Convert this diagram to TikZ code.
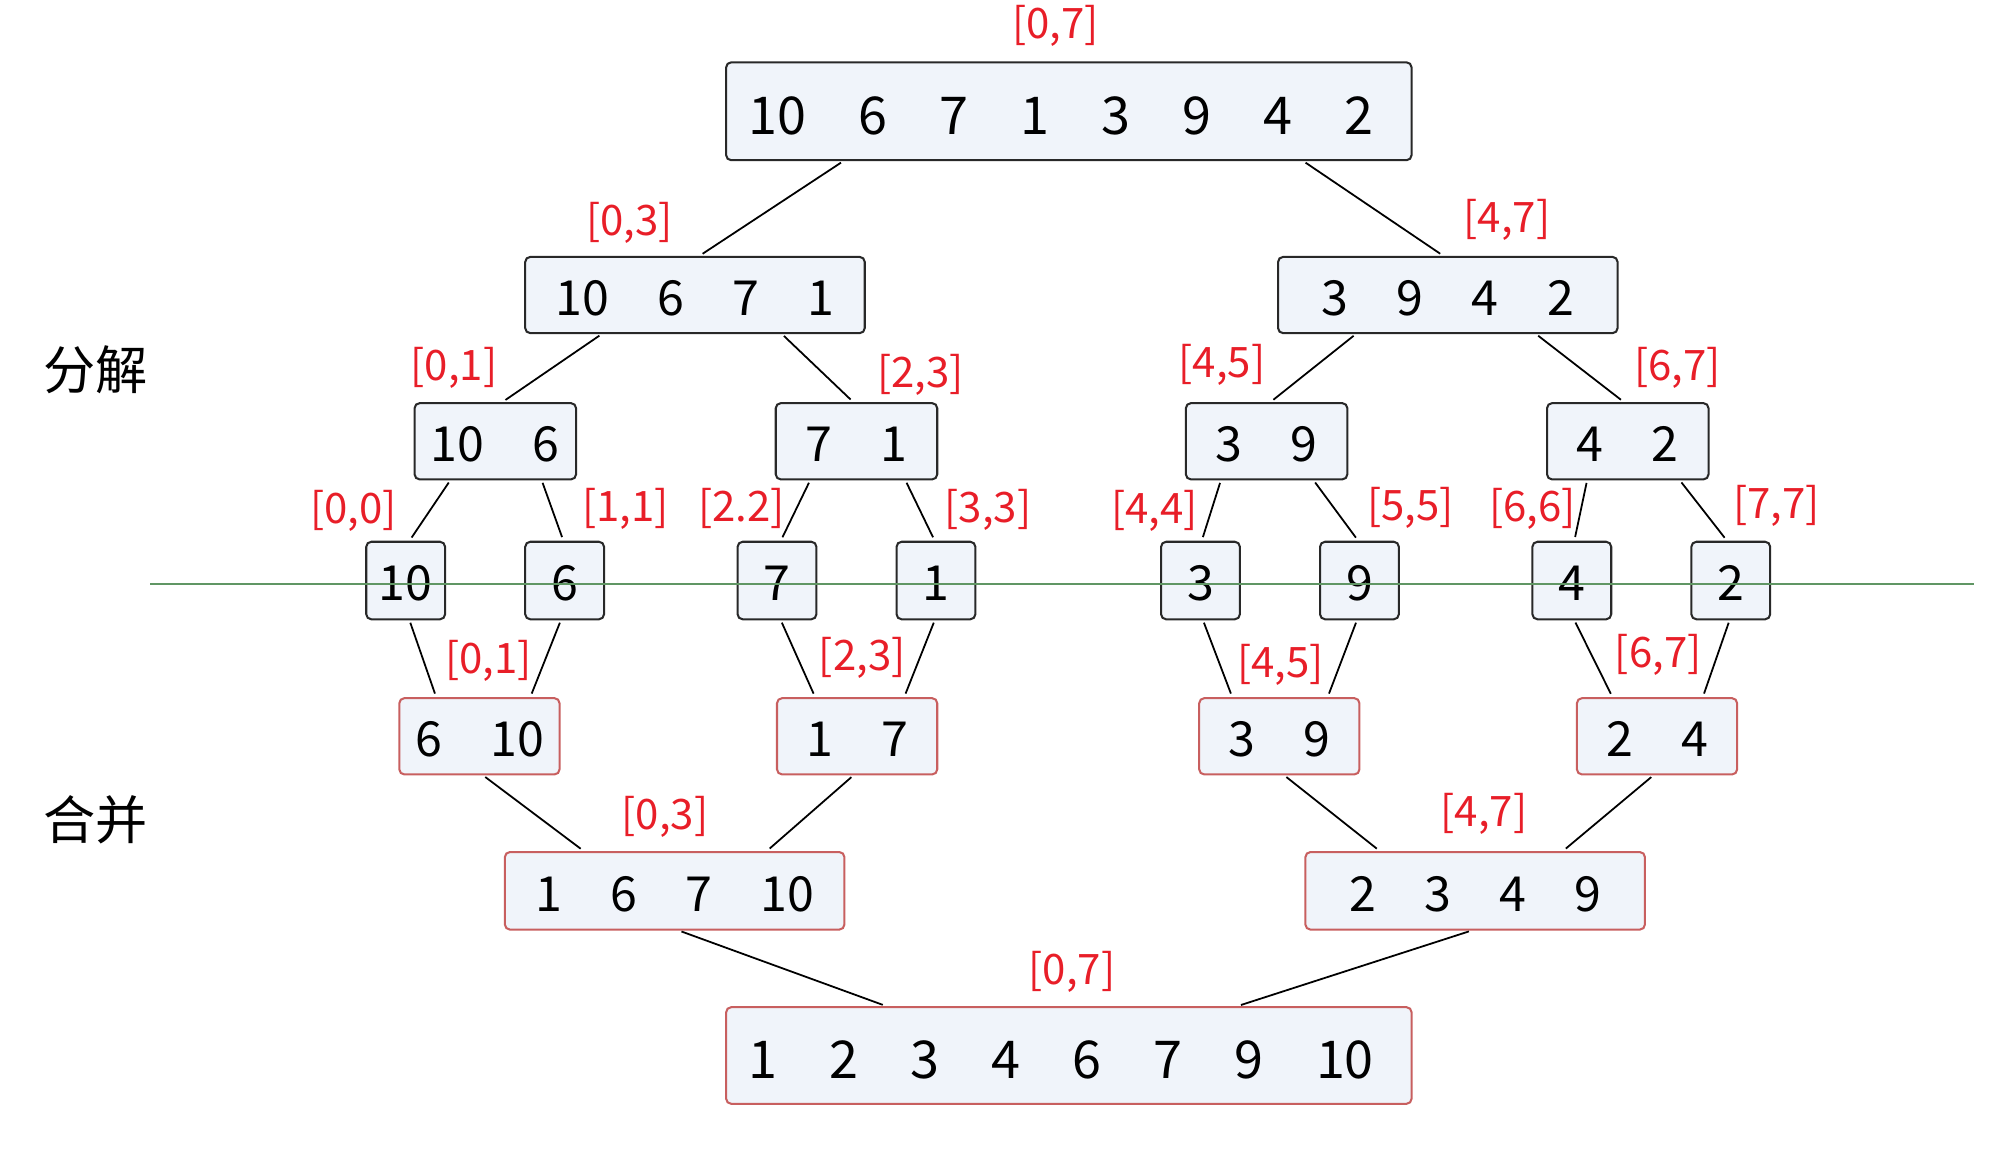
\documentclass[tikz,border=0pt]{standalone}
\usepackage{fontspec}
\setmainfont{Noto Sans CJK SC}
\definecolor{bx}{RGB}{240,244,250}
\definecolor{dk}{RGB}{40,40,40}
\definecolor{rd}{RGB}{200,95,95}
\definecolor{lbred}{RGB}{232,30,40}
\definecolor{gr}{RGB}{96,150,100}
\newcommand\gp{\hspace{1em}}
\tikzset{
  dbox/.style 2 args={draw=dk, fill=bx, rounded corners=4pt, line width=1.6pt,
    minimum width=#1, minimum height=#2, inner sep=0pt,
    text height=32pt, text depth=0pt,
    font=\fontsize{38}{40}\selectfont},
  mbox/.style 2 args={dbox={#1}{#2}, draw=rd},
  bigfont/.style={font=\fontsize{41}{44}\selectfont, text height=36pt},
  lab/.style={text=lbred, inner sep=0pt, font=\fontsize{33}{36}\selectfont},
  side/.style={inner sep=0pt, font=\fontsize{41}{44}\selectfont},
  conn/.style={line width=1.4pt, shorten <=2pt, shorten >=3pt},
  gline/.style={draw=gr, line width=1.8pt}
}
\begin{document}
\begin{tikzpicture}[x=1pt,y=-1pt]
\useasboundingbox (0,0) rectangle (1568,912);
% decomposition
\node[dbox={539pt}{77pt}, bigfont] (T) at (840.5,87.5) {10\gp 6\gp 7\gp 1\gp 3\gp 9\gp 4\gp 2\hspace*{12pt}};
\node[dbox={267pt}{60pt}] (A1) at (546.5,232) {10\gp 6\gp 7\gp 1};
\node[dbox={267pt}{60pt}] (A2) at (1138.5,232) {3\gp 9\gp 4\gp 2};
\node[dbox={127pt}{60pt}] (B1) at (389.5,347) {10\gp 6};
\node[dbox={127pt}{60pt}] (B2) at (673.5,347) {7\gp 1};
\node[dbox={127pt}{60pt}] (B3) at (996,347) {3\gp 9};
\node[dbox={127pt}{60pt}] (B4) at (1280,347) {4\gp 2};
\node[dbox={62pt}{61pt}] (C1) at (319,456.5) {10};
\node[dbox={62pt}{61pt}] (C2) at (444,456.5) {6};
\node[dbox={62pt}{61pt}] (C3) at (611,456.5) {7};
\node[dbox={62pt}{61pt}] (C4) at (736,456.5) {1};
\node[dbox={62pt}{61pt}] (C5) at (944,456.5) {3};
\node[dbox={62pt}{61pt}] (C6) at (1069,456.5) {9};
\node[dbox={62pt}{61pt}] (C7) at (1236,456.5) {4};
\node[dbox={62pt}{61pt}] (C8) at (1361,456.5) {2};
% merge
\node[mbox={126pt}{60pt}] (D1) at (377,579) {6\gp 10};
\node[mbox={126pt}{60pt}] (D2) at (674,579) {1\gp 7};
\node[mbox={126pt}{60pt}] (D3) at (1006,579) {3\gp 9};
\node[mbox={126pt}{60pt}] (D4) at (1303,579) {2\gp 4};
\node[mbox={267pt}{61pt}] (E1) at (530.5,700.5) {1\gp 6\gp 7\gp 10};
\node[mbox={267pt}{61pt}] (E2) at (1160,700.5) {2\gp 3\gp 4\gp 9};
\node[mbox={539pt}{76pt}, bigfont] (F) at (840.5,830) {1\gp 2\gp 3\gp 4\gp 6\gp 7\gp 9\gp 10\hspace*{12pt}};
% connectors decomposition
\draw[conn] ([xshift=-177.5pt]T.south) -- ([xshift=3.5pt]A1.north);
\draw[conn] ([xshift=184.5pt]T.south) -- ([xshift=-3.5pt]A2.north);
\draw[conn] ([xshift=-73.5pt]A1.south) -- ([xshift=5.5pt]B1.north);
\draw[conn] ([xshift=68.5pt]A1.south) -- ([xshift=-2.5pt]B2.north);
\draw[conn] ([xshift=-72.5pt]A2.south) -- ([xshift=3pt]B3.north);
\draw[conn] ([xshift=69.5pt]A2.south) -- ([xshift=-3pt]B4.north);
\draw[conn] ([xshift=-35.5pt]B1.south) -- ([xshift=3pt]C1.north);
\draw[conn] ([xshift=36.5pt]B1.south) -- ([xshift=-1pt]C2.north);
\draw[conn] ([xshift=-36.5pt]B2.south) -- ([xshift=3pt]C3.north);
\draw[conn] ([xshift=38.5pt]B2.south) -- ([xshift=-1pt]C4.north);
\draw[conn] ([xshift=-36pt]B3.south) -- ([xshift=1pt]C5.north);
\draw[conn] ([xshift=37pt]B3.south) -- ([xshift=-1pt]C6.north);
\draw[conn] ([xshift=-32pt]B4.south) -- ([xshift=2pt]C7.north);
\draw[conn] ([xshift=41pt]B4.south) -- ([xshift=-3pt]C8.north);
% connectors merge
\draw[conn] ([xshift=3pt]C1.south) -- ([xshift=-34pt]D1.north);
\draw[conn] ([xshift=-3pt]C2.south) -- ([xshift=40pt]D1.north);
\draw[conn] ([xshift=3pt]C3.south) -- ([xshift=-33pt]D2.north);
\draw[conn] ([xshift=-1pt]C4.south) -- ([xshift=37pt]D2.north);
\draw[conn] ([xshift=2pt]C5.south) -- ([xshift=-37pt]D3.north);
\draw[conn] ([xshift=-2pt]C6.south) -- ([xshift=38pt]D3.north);
\draw[conn] ([xshift=2pt]C7.south) -- ([xshift=-35pt]D4.north);
\draw[conn] ([xshift=-1pt]C8.south) -- ([xshift=36pt]D4.north);
\draw[conn] ([xshift=3pt]D1.south) -- ([xshift=-71.5pt]E1.north);
\draw[conn] ([xshift=-3pt]D2.south) -- ([xshift=72.5pt]E1.north);
\draw[conn] ([xshift=4pt]D3.south) -- ([xshift=-75pt]E2.north);
\draw[conn] ([xshift=-3pt]D4.south) -- ([xshift=69pt]E2.north);
\draw[conn] ([xshift=3.5pt]E1.south) -- ([xshift=-143.5pt]F.north);
\draw[conn] ([xshift=-3pt]E2.south) -- ([xshift=132.5pt]F.north);
% green divider
\coordinate (g1) at (118,459);
\coordinate (g2) at (1552,459);
\draw[gline] (g1) -- (g2);
% range labels
\node[lab] (l07a) at (830,20) {[0,7]};
\node[lab] (l03a) at (495,175) {[0,3]};
\node[lab] (l47a) at (1185,173) {[4,7]};
\node[lab] (l01a) at (357,289) {[0,1]};
\node[lab] (l23a) at (724,295) {[2,3]};
\node[lab] (l45a) at (961,287) {[4,5]};
\node[lab] (l67a) at (1319,289) {[6,7]};
\node[lab] (l00) at (278,402) {[0,0]};
\node[lab] (l11) at (492,400) {[1,1]};
\node[lab] (l22) at (583,400) {[2.2]};
\node[lab] (l33) at (777,401) {[3,3]};
\node[lab] (l44) at (908,402) {[4,4]};
\node[lab] (l55) at (1109,399) {[5,5]};
\node[lab] (l66) at (1205,400) {[6,6]};
\node[lab] (l77) at (1397,398) {[7,7]};
\node[lab] (l01b) at (384,520) {[0,1]};
\node[lab] (l23b) at (678,517) {[2,3]};
\node[lab] (l45b) at (1007,523) {[4,5]};
\node[lab] (l67b) at (1304,515) {[6,7]};
\node[lab] (l03b) at (523,642) {[0,3]};
\node[lab] (l47b) at (1167,640) {[4,7]};
\node[lab] (l07b) at (843,764) {[0,7]};
% side captions
\node[side] (s1) at (75,291) {分解};
\node[side] (s2) at (75,645) {合并};
\end{tikzpicture}
\end{document}
